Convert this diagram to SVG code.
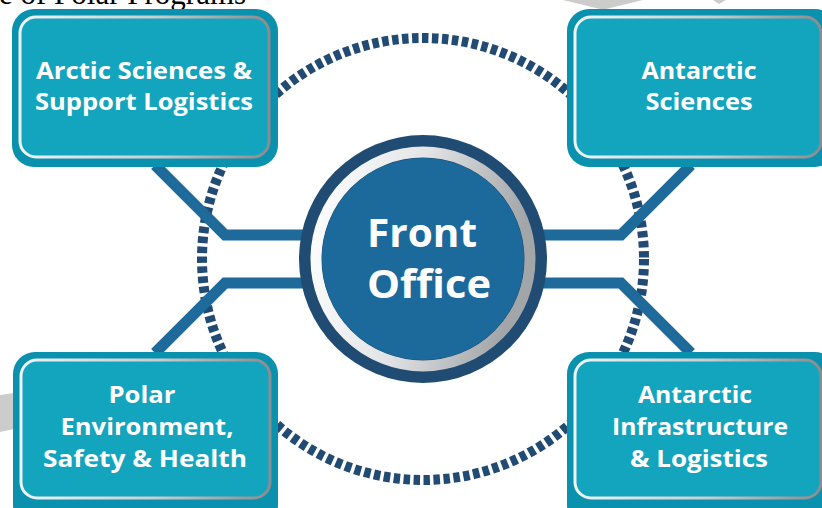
<svg xmlns="http://www.w3.org/2000/svg" width="822" height="508" viewBox="0 0 822 508">
  <defs>
    <linearGradient id="rimGrad" x1="0" y1="0" x2="1" y2="0">
      <stop offset="0" stop-color="#eef3f5"/>
      <stop offset="0.55" stop-color="#c9cdd0"/>
      <stop offset="1" stop-color="#8a8c8e"/>
    </linearGradient>
    <linearGradient id="ringGrad" x1="0" y1="0" x2="1" y2="0.2">
      <stop offset="0" stop-color="#ffffff"/>
      <stop offset="0.5" stop-color="#e2e4e6"/>
      <stop offset="1" stop-color="#a3a6a9"/>
    </linearGradient>
    <style>
      .outer { fill: #0a91ad; }
      .inner { fill: #13a4be; stroke: url(#rimGrad); stroke-width: 3; }
      .label { fill: #ffffff; font-family: "Open Sans", Lato, sans-serif; font-weight: 700; font-size: 24px; text-anchor: middle; }
      .hub { fill: #ffffff; font-family: "Open Sans", Lato, sans-serif; font-weight: 700; font-size: 40px; text-anchor: middle; }
      .link { fill: none; stroke: #1d6a9b; stroke-width: 11; stroke-linejoin: miter; }
      .orbit { fill: none; stroke: #214b73; stroke-width: 10; stroke-dasharray: 6.5 3.5; }
      .mark { fill: #cccccc; }
    </style>
  </defs>

  <!-- page background -->
  <rect x="0" y="0" width="822" height="508" fill="#ffffff"/>

  <!-- faint background marks and clipped heading -->
  <g id="background">
    <polygon class="mark" points="563,0 643,0 606,9 600,9"/>
    <polygon class="mark" points="713,0 726,0 719,4"/>
    <polygon class="mark" points="0,395 14,393 14,429 0,432"/>
    <text x="-1" y="4" font-family="'Liberation Serif', serif" font-size="31" fill="#000000">e of Polar Programs</text>
  </g>

  <!-- dotted orbit around the hub -->
  <circle class="orbit" cx="423" cy="259" r="221"/>

  <!-- connectors from hub to each office -->
  <g id="connectors">
    <polyline class="link" points="310,235 225,235 155,165"/>
    <polyline class="link" points="310,283 225,283 155,353"/>
    <polyline class="link" points="536,235 621,235 691,165"/>
    <polyline class="link" points="536,283 621,283 691,353"/>
  </g>

  <!-- hub -->
  <g id="front-office">
    <circle cx="423" cy="259" r="124" fill="#204b72"/>
    <circle cx="423" cy="259" r="107" fill="none" stroke="url(#ringGrad)" stroke-width="11"/>
    <circle cx="423" cy="259" r="101" fill="#1c6a9b"/>
    <text class="hub" x="422" y="247" textLength="110" lengthAdjust="spacingAndGlyphs">Front</text>
    <text class="hub" x="429" y="298" textLength="124" lengthAdjust="spacingAndGlyphs">Office</text>
  </g>

  <!-- offices -->
  <g id="arctic-sciences">
    <rect class="outer" x="12" y="9" width="266" height="158" rx="22"/>
    <rect class="inner" x="20" y="17" width="249" height="140" rx="16"/>
    <text class="label" x="144" y="79" textLength="216" lengthAdjust="spacingAndGlyphs">Arctic Sciences &amp;</text>
    <text class="label" x="144" y="110" textLength="218" lengthAdjust="spacingAndGlyphs">Support Logistics</text>
  </g>

  <g id="antarctic-sciences">
    <rect class="outer" x="567" y="9" width="270" height="158" rx="22"/>
    <rect class="inner" x="575" y="17" width="246" height="140" rx="16"/>
    <text class="label" x="699" y="79" textLength="115" lengthAdjust="spacingAndGlyphs">Antarctic</text>
    <text class="label" x="699" y="110" textLength="107" lengthAdjust="spacingAndGlyphs">Sciences</text>
  </g>

  <g id="polar-environment">
    <rect class="outer" x="13" y="352" width="265" height="175" rx="22"/>
    <rect class="inner" x="21" y="360" width="249" height="138" rx="16"/>
    <text class="label" x="142" y="403" textLength="67" lengthAdjust="spacingAndGlyphs">Polar</text>
    <text class="label" x="147" y="435" textLength="173" lengthAdjust="spacingAndGlyphs">Environment,</text>
    <text class="label" x="145" y="467" textLength="204" lengthAdjust="spacingAndGlyphs">Safety &amp; Health</text>
  </g>

  <g id="antarctic-infrastructure">
    <rect class="outer" x="567" y="352" width="270" height="175" rx="22"/>
    <rect class="inner" x="575" y="360" width="246" height="138" rx="16"/>
    <text class="label" x="695" y="403" textLength="114" lengthAdjust="spacingAndGlyphs">Antarctic</text>
    <text class="label" x="700" y="435" textLength="176" lengthAdjust="spacingAndGlyphs">Infrastructure</text>
    <text class="label" x="699" y="467" textLength="138" lengthAdjust="spacingAndGlyphs">&amp; Logistics</text>
  </g>
</svg>
